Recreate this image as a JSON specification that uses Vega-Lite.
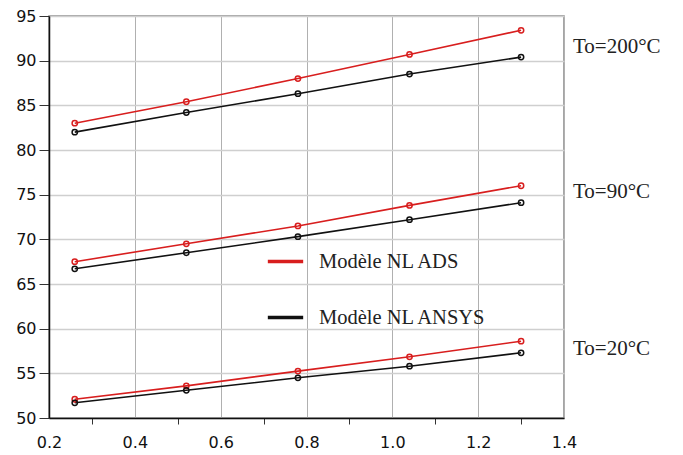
{
  "$schema": "https://vega.github.io/schema/vega-lite/v6.json",
  "width": 515,
  "height": 402,
  "autosize": {"type": "none"},
  "padding": {"left": 49, "top": 16, "right": 119, "bottom": 37},
  "background": "white",
  "config": {
    "view": {"stroke": "#888", "strokeWidth": 1.5},
    "font": "DejaVu Sans"
  },
  "datasets": {
    "curves": [
      {"x": 0.26, "y": 83.0, "model": "Modèle NL ADS", "To": "200"},
      {"x": 0.52, "y": 85.4, "model": "Modèle NL ADS", "To": "200"},
      {"x": 0.78, "y": 88.0, "model": "Modèle NL ADS", "To": "200"},
      {"x": 1.04, "y": 90.7, "model": "Modèle NL ADS", "To": "200"},
      {"x": 1.30, "y": 93.4, "model": "Modèle NL ADS", "To": "200"},
      {"x": 0.26, "y": 82.0, "model": "Modèle NL ANSYS", "To": "200"},
      {"x": 0.52, "y": 84.2, "model": "Modèle NL ANSYS", "To": "200"},
      {"x": 0.78, "y": 86.3, "model": "Modèle NL ANSYS", "To": "200"},
      {"x": 1.04, "y": 88.5, "model": "Modèle NL ANSYS", "To": "200"},
      {"x": 1.30, "y": 90.4, "model": "Modèle NL ANSYS", "To": "200"},
      {"x": 0.26, "y": 67.5, "model": "Modèle NL ADS", "To": "90"},
      {"x": 0.52, "y": 69.5, "model": "Modèle NL ADS", "To": "90"},
      {"x": 0.78, "y": 71.5, "model": "Modèle NL ADS", "To": "90"},
      {"x": 1.04, "y": 73.8, "model": "Modèle NL ADS", "To": "90"},
      {"x": 1.30, "y": 76.0, "model": "Modèle NL ADS", "To": "90"},
      {"x": 0.26, "y": 66.7, "model": "Modèle NL ANSYS", "To": "90"},
      {"x": 0.52, "y": 68.5, "model": "Modèle NL ANSYS", "To": "90"},
      {"x": 0.78, "y": 70.3, "model": "Modèle NL ANSYS", "To": "90"},
      {"x": 1.04, "y": 72.2, "model": "Modèle NL ANSYS", "To": "90"},
      {"x": 1.30, "y": 74.1, "model": "Modèle NL ANSYS", "To": "90"},
      {"x": 0.26, "y": 52.1, "model": "Modèle NL ADS", "To": "20"},
      {"x": 0.52, "y": 53.6, "model": "Modèle NL ADS", "To": "20"},
      {"x": 0.78, "y": 55.25, "model": "Modèle NL ADS", "To": "20"},
      {"x": 1.04, "y": 56.85, "model": "Modèle NL ADS", "To": "20"},
      {"x": 1.30, "y": 58.6, "model": "Modèle NL ADS", "To": "20"},
      {"x": 0.26, "y": 51.7, "model": "Modèle NL ANSYS", "To": "20"},
      {"x": 0.52, "y": 53.1, "model": "Modèle NL ANSYS", "To": "20"},
      {"x": 0.78, "y": 54.5, "model": "Modèle NL ANSYS", "To": "20"},
      {"x": 1.04, "y": 55.8, "model": "Modèle NL ANSYS", "To": "20"},
      {"x": 1.30, "y": 57.3, "model": "Modèle NL ANSYS", "To": "20"}
    ],
    "labels": [
      {"x": 1.421, "y": 91.5, "label": "To=200°C"},
      {"x": 1.421, "y": 75.3, "label": "To=90°C"},
      {"x": 1.421, "y": 57.7, "label": "To=20°C"}
    ]
  },
  "layer": [
    {
      "data": {"name": "curves"},
      "mark": {"type": "line", "strokeWidth": 1.6, "point": {"filled": false, "size": 28, "strokeWidth": 1.5}},
      "encoding": {
        "x": {
          "field": "x", "type": "quantitative",
          "scale": {"domain": [0.2, 1.4], "nice": false, "zero": false},
          "axis": {
            "title": null,
            "values": [0.2, 0.3, 0.4, 0.5, 0.6, 0.7, 0.8, 0.9, 1.0, 1.1, 1.2, 1.3, 1.4],
            "labelExpr": "round(datum.value*10) % 2 == 0 ? format(datum.value, '.1f') : ''",
            "domainColor": "#111", "domainWidth": 1.5,
            "tickColor": "#333", "tickSize": 6,
            "tickOpacity": {"condition": {"test": "round(datum.value*10) % 2 == 0", "value": 0}, "value": 1},
            "gridColor": "#b0b0b0",
            "gridOpacity": {"condition": {"test": "round(datum.value*10) % 2 == 0", "value": 1}, "value": 0},
            "labelFontSize": 16, "labelColor": "#111", "labelPadding": 10,
            "labelFlush": false
          }
        },
        "y": {
          "field": "y", "type": "quantitative",
          "scale": {"domain": [50, 95], "nice": false, "zero": false},
          "axis": {
            "title": null,
            "values": [50, 55, 60, 65, 70, 75, 80, 85, 90, 95],
            "domainColor": "#111", "domainWidth": 1.5,
            "tickColor": "#333", "tickSize": 10,
            "gridColor": "#cfcfcf", "gridWidth": 1.5,
            "labelFontSize": 16, "labelColor": "#111", "labelPadding": 3
          }
        },
        "color": {
          "field": "model", "type": "nominal",
          "scale": {"domain": ["Modèle NL ADS", "Modèle NL ANSYS"], "range": ["#d81e1e", "#111111"]},
          "legend": {
            "title": null,
            "orient": "none",
            "legendX": 217,
            "legendY": 226,
            "symbolType": "stroke",
            "symbolSize": 1250,
            "symbolStrokeWidth": 3.5,
            "labelFont": "Liberation Serif",
            "labelFontSize": 20.5,
            "labelColor": "#222",
            "labelOffset": 14,
            "rowPadding": 26,
            "labelLimit": 300
          }
        },
        "detail": {"field": "To", "type": "nominal"}
      }
    },
    {
      "data": {"name": "labels"},
      "mark": {"type": "text", "align": "left", "baseline": "middle", "font": "Liberation Serif", "fontSize": 21, "color": "#222", "clip": false},
      "encoding": {
        "x": {"field": "x", "type": "quantitative"},
        "y": {"field": "y", "type": "quantitative"},
        "text": {"field": "label"}
      }
    }
  ]
}
